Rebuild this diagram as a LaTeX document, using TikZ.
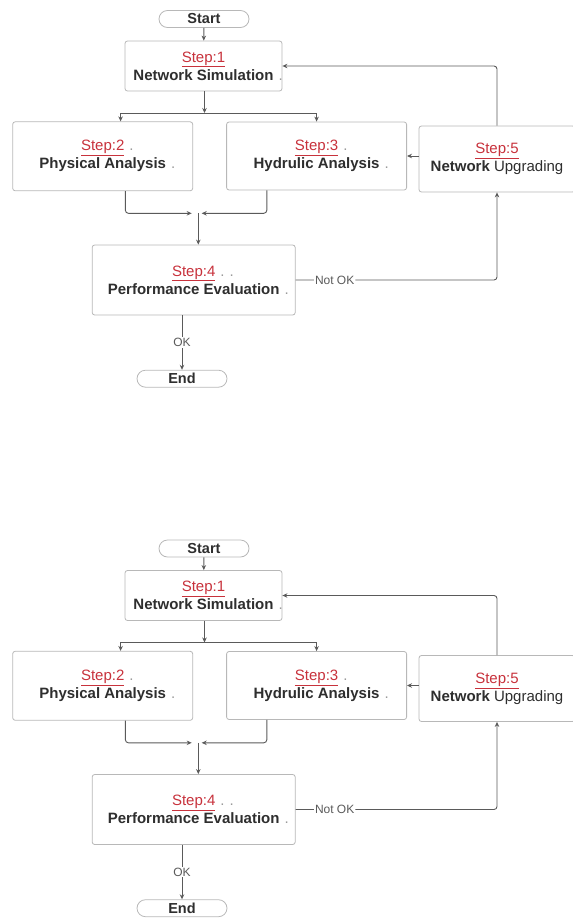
\documentclass[tikz,border=0pt]{standalone}
\usepackage{fontspec}
\setmainfont{Liberation Sans}
\usetikzlibrary{arrows.meta}
\definecolor{boxgray}{HTML}{B8B8B8}
\definecolor{dotgray}{HTML}{9A9A9A}
\definecolor{linegray}{HTML}{5A5A5A}
\definecolor{stepred}{HTML}{C8323C}
\definecolor{textdark}{HTML}{2E2E2E}
\newcommand{\steplabel}[1]{{\color{stepred}\underline{Step:#1}}}
\newcommand{\straydot}{\rlap{\color{dotgray}\,\,.}}
\begin{document}
\begin{tikzpicture}[x=1pt,y=-1pt,
  stepbox/.style={draw=boxgray,line width=0.8pt,rounded corners=2.5pt,fill=white,align=center,
    inner sep=0pt,text=textdark,font=\fontsize{15}{18}\selectfont},
  terminal/.style={draw=boxgray,line width=0.8pt,rounded corners=8.5pt,minimum width=90pt,
    minimum height=17pt,inner sep=0pt,text=textdark,font=\fontsize{14.5}{16}\selectfont\bfseries},
  flow/.style={draw=linegray,line width=0.9pt,-{Stealth[length=5pt,width=4.5pt]}},
  flowlabel/.style={fill=white,inner sep=1pt,text=linegray,font=\fontsize{12}{13}\selectfont}]
\useasboundingbox (0,0) rectangle (573,919);
% the same chart twice, one under the other
\foreach \k/\dy in {a/0,b/529.5}{
\begin{scope}[shift={(0,\dy)}]
  \node[terminal] (start\k) at (204,19) {Start};
  \node[stepbox,minimum width=157pt,minimum height=50pt] (sim\k) at (203.5,66)
    {\steplabel{1}\\ \textbf{Network Simulation}\straydot};
  \node[stepbox,minimum width=180pt,minimum height=69pt] (phys\k) at (102.7,156.3)
    {\steplabel{2}\straydot\\ \textbf{Physical Analysis}\straydot};
  \node[stepbox,minimum width=180pt,minimum height=68pt] (hyd\k) at (316.6,156)
    {\steplabel{3}\straydot\\ \textbf{Hydrulic Analysis}\straydot};
  \node[stepbox,minimum width=156pt,minimum height=66pt] (upg\k) at (497,159)
    {\steplabel{5}\\ \textbf{Network} Upgrading};
  \node[stepbox,minimum width=203pt,minimum height=70pt] (eval\k) at (193.7,280)
    {\steplabel{4}\rlap{\color{dotgray}\,\,.\,\,.}\\ \textbf{Performance Evaluation}\straydot};
  \node[terminal] (end\k) at (182,378.7) {End};
  \coordinate (fork\k) at (204.5,113);
  \coordinate (forkl\k) at (120.6,113);
  \coordinate (joinl\k) at (191.7,213.3);
  \coordinate (joinr\k) at (201.7,213.3);
  \coordinate (join\k) at (198.3,213.3);
  % connectors
  \draw[flow] (start\k) -- (sim\k);
  \draw[flow] (sim\k.south -| fork\k) -- (fork\k);
  \draw[flow] (fork\k) -| (forkl\k |- phys\k.north);
  \draw[flow] (fork\k) -| (hyd\k.north);
  \draw[flow,rounded corners=3pt] ([xshift=22.7pt]phys\k.south) |- (joinl\k);
  \draw[flow,rounded corners=3pt] ([xshift=-49.8pt]hyd\k.south) |- (joinr\k);
  \draw[flow] (join\k) -- (join\k |- eval\k.north);
  \draw[flow] (eval\k.south -| end\k) -- node[flowlabel]{OK} (end\k);
  \draw[flow,rounded corners=3pt] (eval\k.east) -| node[flowlabel,pos=0.097]{Not OK} (upg\k.south);
  \draw[flow,rounded corners=3pt] (upg\k.north) |- (sim\k.east);
  \draw[flow] (upg\k.west |- hyd\k.east) -- (hyd\k.east);
\end{scope}}
\end{tikzpicture}
\end{document}
